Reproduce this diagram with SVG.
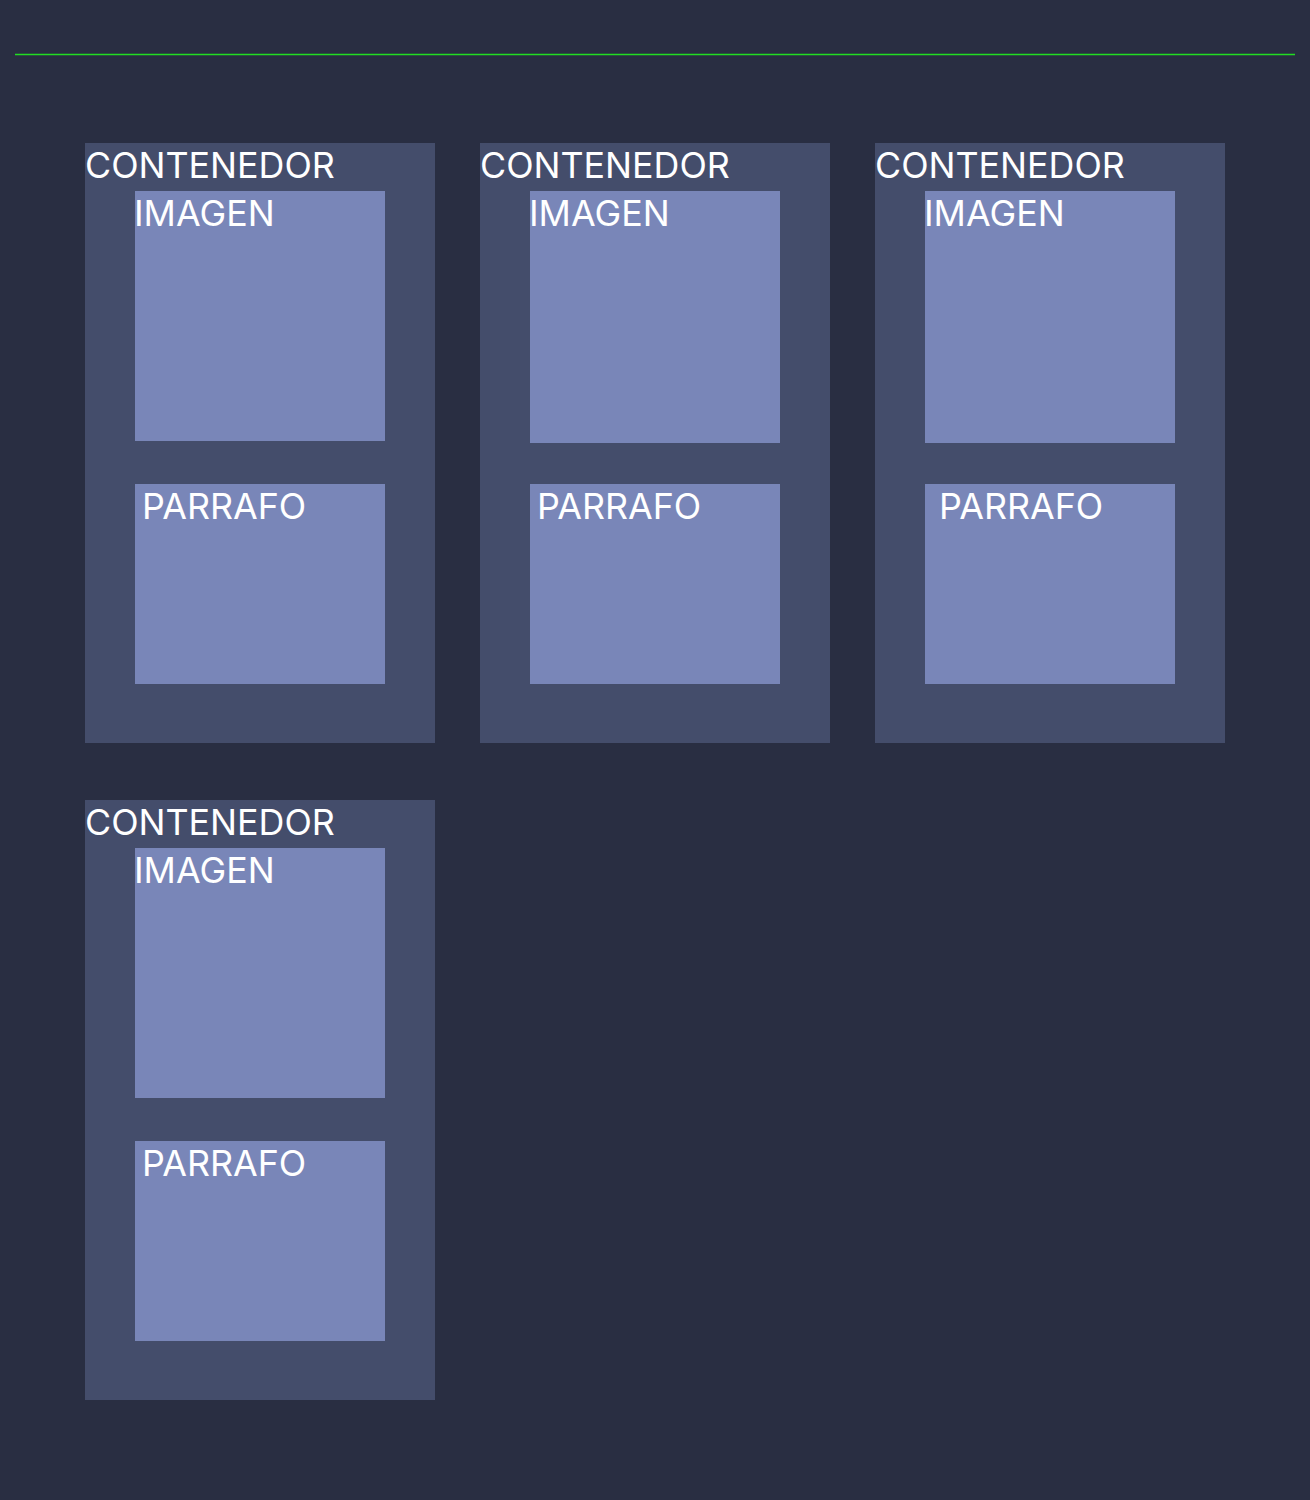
<svg xmlns="http://www.w3.org/2000/svg" width="1310" height="1500" viewBox="0 0 1310 1500">
<style>
.bg{fill:#292e42}
.cont{fill:#444d6b}
.inner{fill:#7986b8}
text{font-family:Inter,"Liberation Sans",sans-serif;font-size:35.8px;fill:#ffffff}
</style>
<rect class="bg" x="0" y="0" width="1310" height="1500"/>
<line x1="15" y1="54.5" x2="1295" y2="54.5" stroke="#22dd22" stroke-width="1.6"/>
<g id="contenedor1">
<rect class="cont" x="85" y="143" width="350" height="600"/>
<text x="85" y="177.5">CONTENEDOR</text>
<g id="imagen1"><rect class="inner" x="135" y="191" width="250" height="250"/><text x="134" y="225.5">IMAGEN</text></g>
<g id="parrafo1"><rect class="inner" x="135" y="484" width="250" height="200"/><text x="142" y="518.5">PARRAFO</text></g>
</g>
<g id="contenedor2">
<rect class="cont" x="480" y="143" width="350" height="600"/>
<text x="480" y="177.5">CONTENEDOR</text>
<g id="imagen2"><rect class="inner" x="530" y="191" width="250" height="252"/><text x="529" y="225.5">IMAGEN</text></g>
<g id="parrafo2"><rect class="inner" x="530" y="484" width="250" height="200"/><text x="537" y="518.5">PARRAFO</text></g>
</g>
<g id="contenedor3">
<rect class="cont" x="875" y="143" width="350" height="600"/>
<text x="875" y="177.5">CONTENEDOR</text>
<g id="imagen3"><rect class="inner" x="925" y="191" width="250" height="252"/><text x="924" y="225.5">IMAGEN</text></g>
<g id="parrafo3"><rect class="inner" x="925" y="484" width="250" height="200"/><text x="939" y="518.5">PARRAFO</text></g>
</g>
<g id="contenedor4">
<rect class="cont" x="85" y="800" width="350" height="600"/>
<text x="85" y="834.5">CONTENEDOR</text>
<g id="imagen4"><rect class="inner" x="135" y="848" width="250" height="250"/><text x="134" y="882.5">IMAGEN</text></g>
<g id="parrafo4"><rect class="inner" x="135" y="1141" width="250" height="200"/><text x="142" y="1175.5">PARRAFO</text></g>
</g>
<g id="connectors"/>
</svg>
